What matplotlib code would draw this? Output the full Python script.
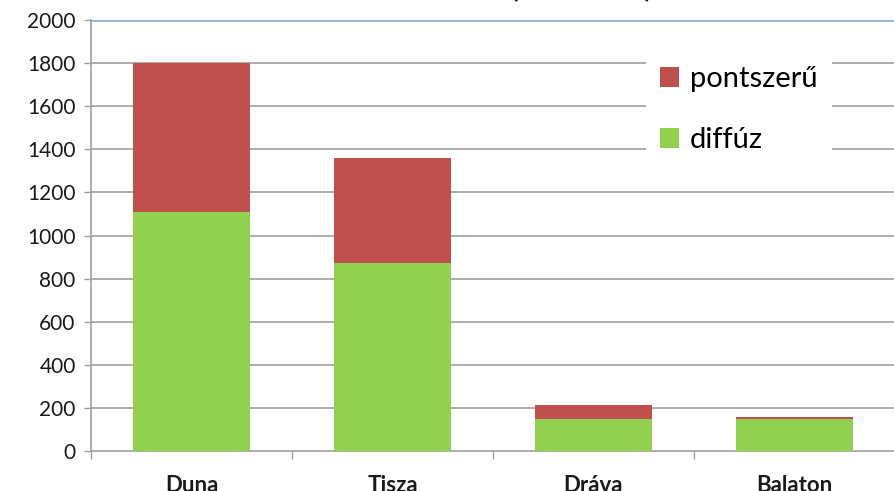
import matplotlib.pyplot as plt
import numpy as np

# river / lake loads, split by source
categories = ['Duna', 'Tisza', 'Dráva', 'Balaton']
diffuz = [1110, 872, 148, 148]
pontszeru = [690, 488, 65, 10]
yticks = [0, 200, 400, 600, 800, 1000, 1200, 1400, 1600, 1800, 2000]

plt.rcParams['font.family'] = ['Lato', 'DejaVu Sans']

fig = plt.figure(figsize=(8.95, 4.91), dpi=100)
ax = fig.add_axes([91 / 895, 40 / 491, (895 - 91) / 895, 431 / 491])

x = np.arange(len(categories))
w = 0.58
b1 = ax.bar(x, diffuz, w, color='#92D050', label='diffúz', zorder=3)
b2 = ax.bar(x, pontszeru, w, bottom=diffuz, color='#C0504D', label='pontszerű', zorder=3)

ax.set_xlim(-0.5, 3.5)
ax.set_ylim(0, 2000)
ax.set_yticks(yticks)
ax.set_yticklabels([str(v) for v in yticks], fontsize=15, color='#1a1a1a')
ax.tick_params(axis='y', length=5, width=1, color='#a0a0a0', pad=6, direction='out')

# gridlines
for v in yticks[1:-1]:
    ax.axhline(v, color='#a0a0a0', lw=1.2, zorder=1)
ax.axhline(2000, color='#95b3d7', lw=2, zorder=1)

for s in ['top', 'right']:
    ax.spines[s].set_visible(False)
ax.spines['left'].set_color('#a0a0a0')
ax.spines['left'].set_linewidth(1.2)
ax.spines['bottom'].set_color('#a0a0a0')
ax.spines['bottom'].set_linewidth(1.2)

# category labels + separator ticks
ax.set_xticks(x)
ax.set_xticklabels(categories, fontsize=16, fontweight='bold', color='#1a1a1a')
ax.tick_params(axis='x', length=0, pad=17)
ax.set_xticks(np.arange(-0.5, 4.0, 1.0), minor=True)
ax.tick_params(axis='x', which='minor', length=6, width=1, color='#a0a0a0')

leg = ax.legend(handles=[b2, b1], loc='upper left', bbox_to_anchor=(0.672, 0.96),
                fontsize=21, frameon=True, facecolor='white', edgecolor='none',
                framealpha=1, fancybox=False, labelspacing=1.2,
                handlelength=0.65, handleheight=0.65, handletextpad=0.35,
                borderpad=0.5)
leg.set_zorder(5)

fig.text(653 / 895, 1 + 4 / 491, 'Terhelés (tonna/év)', ha='right', va='baseline',
         fontsize=22, fontweight='bold', color='#1a1a1a')

fig.savefig('out.png', dpi=100)
